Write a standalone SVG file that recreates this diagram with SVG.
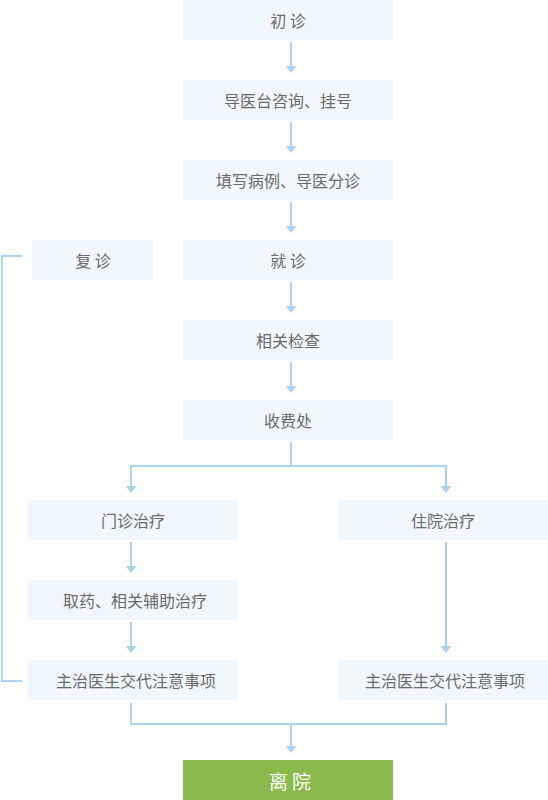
<svg xmlns="http://www.w3.org/2000/svg" width="548" height="800" viewBox="0 0 548 800">
<style>
.box{fill:#f0f8fe}
.green{fill:#8aba4b}
.t{font-family:"Noto Sans CJK SC","Noto Sans",sans-serif;font-size:16px;fill:#6a6a6a;text-anchor:middle;dominant-baseline:central}
.tw{font-family:"Noto Sans CJK SC","Noto Sans",sans-serif;font-size:19px;fill:#fff;text-anchor:middle;dominant-baseline:central;letter-spacing:4px}
.c{fill:none;stroke:#a9d4f5;stroke-width:2}
.a{marker-end:url(#arr)}
</style>
<defs>
<marker id="arr" viewBox="0 0 7 11" refX="0" refY="5.5" markerWidth="7" markerHeight="11" markerUnits="userSpaceOnUse" orient="auto">
<path d="M0,0 L7,5.5 L0,11 z" fill="#a9d4f5"/>
</marker>
</defs>
<g id="connectors">
<path class="c a" d="M291,42 V66"/>
<path class="c a" d="M291,122 V146"/>
<path class="c a" d="M291,202 V226"/>
<path class="c a" d="M291,282 V306"/>
<path class="c a" d="M291,362 V386"/>
<path class="c" d="M291,442 V466 M131,466 H446"/>
<path class="c a" d="M131,465 V486"/>
<path class="c a" d="M446,465 V486"/>
<path class="c a" d="M131,542 V566"/>
<path class="c a" d="M131,622 V646"/>
<path class="c a" d="M446,542 V646"/>
<path class="c" d="M131,703 V724 H446 V703"/>
<path class="c a" d="M291,724 V746"/>
<path class="c" d="M22,256 H2 V681 H22"/>
</g>
<g id="n1"><rect class="box" x="183" y="0" width="210" height="40"/><text class="t" x="288" y="20">初 诊</text></g>
<g id="n2"><rect class="box" x="183" y="80" width="210" height="40"/><text class="t" x="288" y="100">导医台咨询、挂号</text></g>
<g id="n3"><rect class="box" x="183" y="160" width="210" height="40"/><text class="t" x="288" y="180">填写病例、导医分诊</text></g>
<g id="n4"><rect class="box" x="183" y="240" width="210" height="40"/><text class="t" x="288" y="260">就 诊</text></g>
<g id="n_fz"><rect class="box" x="32" y="240" width="121" height="40"/><text class="t" x="93" y="260">复 诊</text></g>
<g id="n5"><rect class="box" x="183" y="320" width="210" height="40"/><text class="t" x="288" y="340">相关检查</text></g>
<g id="n6"><rect class="box" x="183" y="400" width="210" height="40"/><text class="t" x="288" y="420">收费处</text></g>
<g id="n7"><rect class="box" x="28" y="500" width="210" height="40"/><text class="t" x="133" y="520">门诊治疗</text></g>
<g id="n8"><rect class="box" x="28" y="580" width="210" height="40"/><text class="t" x="135" y="600">取药、相关辅助治疗</text></g>
<g id="n9"><rect class="box" x="28" y="660" width="210" height="40"/><text class="t" x="136" y="680">主治医生交代注意事项</text></g>
<g id="n10"><rect class="box" x="338" y="500" width="210" height="40"/><text class="t" x="443" y="520">住院治疗</text></g>
<g id="n11"><rect class="box" x="338" y="660" width="210" height="40"/><text class="t" x="445" y="680">主治医生交代注意事项</text></g>
<g id="n12"><rect class="green" x="183" y="760" width="210" height="40"/><text class="tw" x="292" y="780">离院</text></g>
</svg>
